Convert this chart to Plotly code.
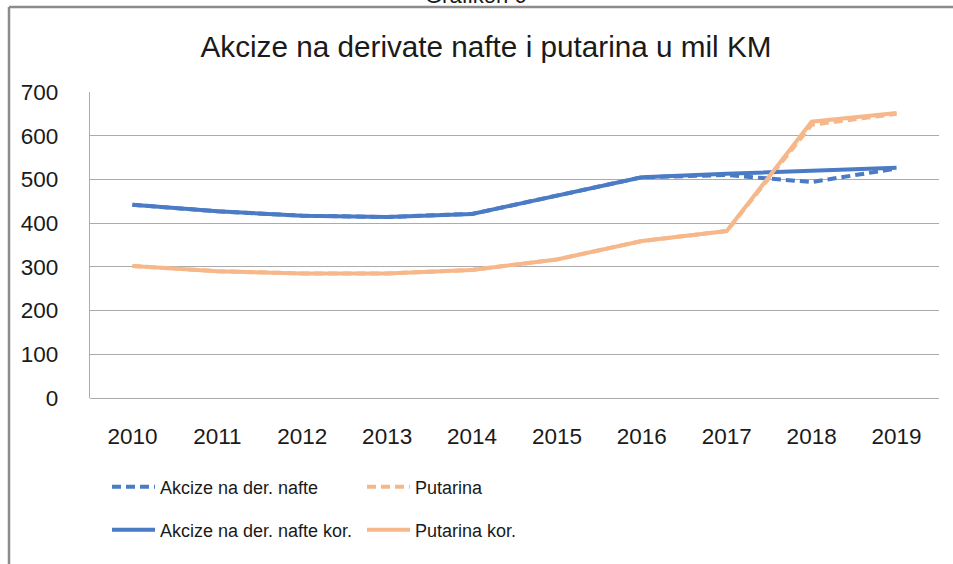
import plotly.graph_objects as go

years = ["2010", "2011", "2012", "2013", "2014", "2015", "2016", "2017", "2018", "2019"]
akcize = [442, 427, 417, 414, 421, 463, 505, 510, 494, 525]
putarina = [302, 290, 285, 285, 293, 317, 359, 382, 625, 650]
akcize_kor = [442, 427, 417, 414, 421, 463, 505, 513, 521, 527]
putarina_kor = [302, 290, 285, 285, 293, 317, 359, 382, 632, 652]
y_ticks = [0, 100, 200, 300, 400, 500, 600, 700]

BLUE = "#4A7BC4"
ORANGE = "#F6B88A"
FONT = "Liberation Sans"

fig = go.Figure()
fig.add_trace(go.Scatter(x=years, y=akcize, name="Akcize na der. nafte", mode="lines",
                         line=dict(color=BLUE, width=4, dash="9px,5px"), legend="legend"))
fig.add_trace(go.Scatter(x=years, y=putarina, name="Putarina", mode="lines",
                         line=dict(color=ORANGE, width=4, dash="9px,5px"), legend="legend"))
fig.add_trace(go.Scatter(x=years, y=akcize_kor, name="Akcize na der. nafte kor.", mode="lines",
                         line=dict(color=BLUE, width=4), legend="legend2"))
fig.add_trace(go.Scatter(x=years, y=putarina_kor, name="Putarina kor.", mode="lines",
                         line=dict(color=ORANGE, width=4), legend="legend2"))

W, H = 953, 564
L, R, T, B = 90, 14, 92, 166
pw, ph = W - L - R, H - T - B

def px2x(p):
    return (p - L) / pw

def px2y(p):
    return 1 + (T - p) / ph

leg_common = dict(orientation="h", xanchor="left", yanchor="middle",
                  bgcolor="rgba(0,0,0,0)", borderwidth=0,
                  font=dict(family=FONT, size=18, color="#1a1a1a"),
                  itemwidth=43, entrywidth=197, entrywidthmode="pixels",
                  traceorder="normal")

fig.update_layout(
    width=W, height=H,
    margin=dict(l=L, r=R, t=T, b=B),
    paper_bgcolor="white", plot_bgcolor="white",
    title=dict(text="Akcize na derivate nafte i putarina u mil KM",
               x=486 / W, xanchor="center", y=1 - 47 / H, yanchor="middle",
               font=dict(family=FONT, size=29.7, color="#1a1a1a")),
    font=dict(family=FONT, size=22, color="#1a1a1a"),
    showlegend=True,
    legend=dict(x=px2x(107), y=px2y(487), **leg_common),
    legend2=dict(x=px2x(107), y=px2y(530), **leg_common),
    xaxis=dict(type="category", range=[-0.5, 9.5], showgrid=False, showline=False,
               zeroline=False, ticks="", ticklabelstandoff=22,
               tickfont=dict(family=FONT, size=22.5, color="#1a1a1a")),
    yaxis=dict(range=[0, 700], tickvals=y_ticks, showgrid=True, gridcolor="#ababab",
               gridwidth=1.3, showline=True, linecolor="#ababab", linewidth=1.3,
               zeroline=True, zerolinecolor="#ababab", zerolinewidth=1.3,
               ticks="", ticklabelstandoff=26,
               tickfont=dict(family=FONT, size=22.5, color="#1a1a1a")),
    shapes=[
        dict(type="line", xref="paper", yref="paper", x0=px2x(9), x1=px2x(960),
             y0=px2y(7), y1=px2y(7), line=dict(color="#8c8c8c", width=2.5)),
        dict(type="line", xref="paper", yref="paper", x0=px2x(9), x1=px2x(9),
             y0=px2y(7), y1=px2y(570), line=dict(color="#8c8c8c", width=2.5)),
    ],
    annotations=[
        dict(text="Grafikon 6", xref="paper", yref="paper", x=px2x(476), y=px2y(-5),
             xanchor="center", yanchor="middle", showarrow=False,
             font=dict(family=FONT, size=22, color="#1a1a1a")),
    ],
)

fig.write_html("out.html", config={"displayModeBar": False},
               post_script="document.body.style.margin='0';document.body.style.overflow='hidden';")
